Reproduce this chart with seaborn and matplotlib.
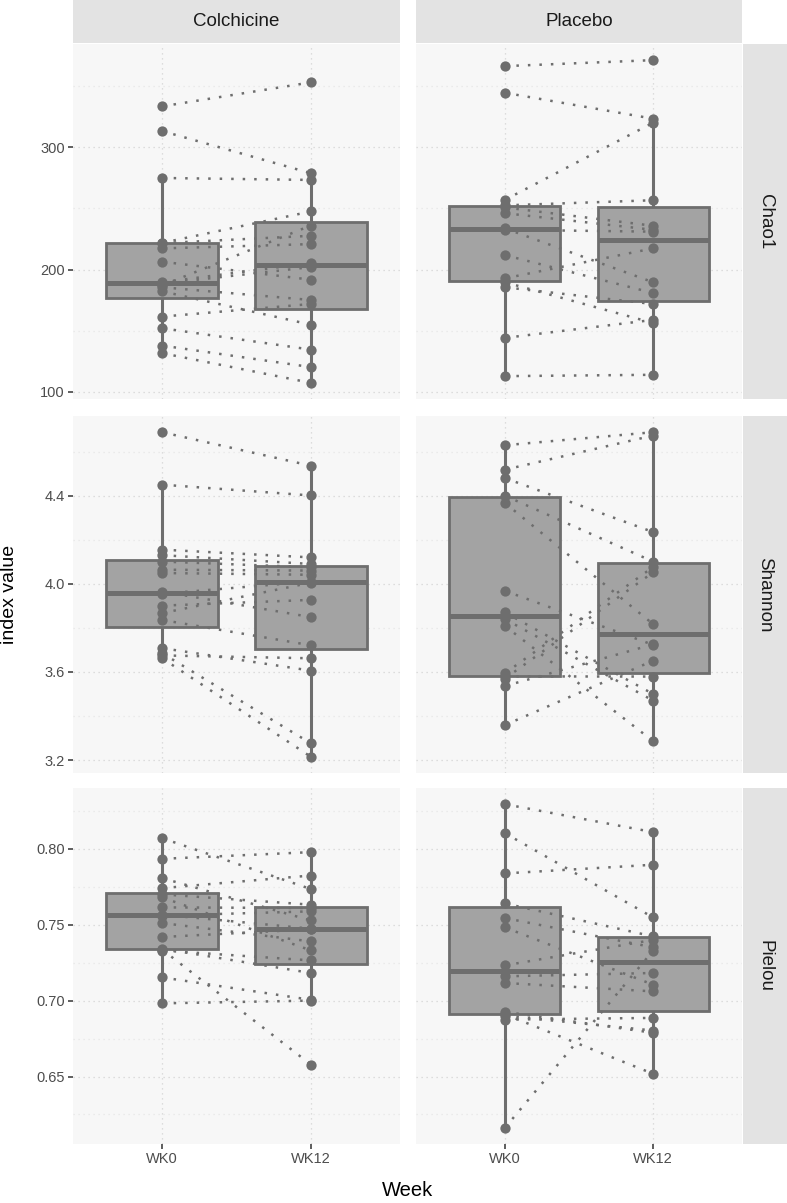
import numpy as np
import pandas as pd
import matplotlib
matplotlib.use("Agg")
import matplotlib.pyplot as plt
import seaborn as sns

# --- data (paired by subject) ---
weeks = ["WK0", "WK12"]
groups = ["Colchicine", "Placebo"]
indices = ["Chao1", "Shannon", "Pielou"]

chao1_col_wk0 = [333.5, 313.3, 274.9, 221.8, 221.6, 217.3, 206.4, 189.6,
                 188.5, 187.0, 185.5, 182.2, 161.5, 152.0, 137.8, 131.6]
chao1_col_wk12 = [353.1, 278.8, 273.3, 247.5, 227.6, 220.8, 191.7, 205.3,
                  202.0, 236.0, 175.1, 154.9, 171.8, 134.5, 120.2, 107.3]
chao1_pla_wk0 = [366.4, 344.6, 257.0, 252.5, 250.8, 246.1, 233.7,
                 232.5, 211.8, 192.8, 189.6, 185.5, 144.1, 112.8]
chao1_pla_wk12 = [371.3, 323.4, 320.1, 256.7, 235.8, 232.5, 189.6,
                  231.0, 180.8, 217.3, 156.3, 171.8, 158.8, 113.9]

shannon_col_wk0 = [4.688, 4.450, 4.155, 4.130, 4.101, 4.064, 4.049, 3.965,
                   3.955, 3.901, 3.867, 3.836, 3.708, 3.685, 3.675, 3.662]
shannon_col_wk12 = [4.536, 4.401, 4.120, 4.090, 4.075, 4.060, 4.041, 3.849,
                    4.010, 3.927, 4.005, 3.721, 3.606, 3.276, 3.662, 3.215]
shannon_pla_wk0 = [4.629, 4.518, 4.480, 4.400, 4.367, 3.968, 3.870,
                   3.840, 3.809, 3.594, 3.580, 3.570, 3.536, 3.359]
shannon_pla_wk12 = [4.688, 4.673, 4.235, 4.101, 3.817, 3.723, 3.500,
                    3.470, 3.286, 4.076, 3.579, 4.052, 3.725, 3.651]

pielou_col_wk0 = [0.8070, 0.7934, 0.7807, 0.7741, 0.7700, 0.7680, 0.7614, 0.7566,
                  0.7560, 0.7511, 0.7419, 0.7342, 0.7336, 0.7330, 0.7153, 0.6982]
pielou_col_wk12 = [0.7735, 0.7978, 0.7528, 0.7824, 0.7632, 0.7331, 0.7610, 0.7474,
                   0.7588, 0.7390, 0.7470, 0.7182, 0.6579, 0.7265, 0.7005, 0.7000]
pielou_pla_wk0 = [0.8294, 0.8103, 0.7838, 0.7640, 0.7544, 0.7482, 0.7232,
                  0.7160, 0.7116, 0.6926, 0.6910, 0.6900, 0.6875, 0.6162]
pielou_pla_wk12 = [0.8110, 0.7548, 0.7895, 0.7423, 0.7351, 0.7105, 0.7400,
                   0.7182, 0.7061, 0.6788, 0.6518, 0.6803, 0.6886, 0.7329]

series = {
    ("Chao1", "Colchicine"): (chao1_col_wk0, chao1_col_wk12),
    ("Chao1", "Placebo"): (chao1_pla_wk0, chao1_pla_wk12),
    ("Shannon", "Colchicine"): (shannon_col_wk0, shannon_col_wk12),
    ("Shannon", "Placebo"): (shannon_pla_wk0, shannon_pla_wk12),
    ("Pielou", "Colchicine"): (pielou_col_wk0, pielou_col_wk12),
    ("Pielou", "Placebo"): (pielou_pla_wk0, pielou_pla_wk12),
}

y_ticks = {
    "Chao1": ([100, 200, 300], ["100", "200", "300"], [150, 250, 350]),
    "Shannon": ([3.2, 3.6, 4.0, 4.4], ["3.2", "3.6", "4.0", "4.4"], [3.4, 3.8, 4.2, 4.6]),
    "Pielou": ([0.65, 0.70, 0.75, 0.80], ["0.65", "0.70", "0.75", "0.80"],
               [0.625, 0.675, 0.725, 0.775, 0.825]),
}

rows = []
for (idx, grp), (w0, w12) in series.items():
    for s, (a, b) in enumerate(zip(w0, w12)):
        rows.append((idx, grp, f"{grp}_{s}", "WK0", a))
        rows.append((idx, grp, f"{grp}_{s}", "WK12", b))
df = pd.DataFrame(rows, columns=["index", "group", "subject", "Week", "value"])
df["pos"] = pd.Categorical(df["Week"], categories=weeks).codes

# --- styling ---
sns.set_theme(style="white")
plt.rcParams["font.family"] = ["Liberation Sans", "DejaVu Sans"]

W, H = 787, 1203
fig = plt.figure(figsize=(W / 100, H / 100), dpi=100)

col_x = [(73, 327), (416, 326)]
row_y = [(44, 355), (416, 357), (788, 356)]
strip_top = (0, 43)
strip_right = (743, 44)

box_fill = "#A3A3A3"
dark = "#6E6E6E"
panel_bg = "#F7F7F7"
strip_bg = "#E3E3E3"


def px_axes(x, y, w, h):
    return fig.add_axes([x / W, 1 - (y + h) / H, w / W, h / H])


for r, idx in enumerate(indices):
    sub_idx = df[df["index"] == idx]
    lo, hi = sub_idx["value"].min(), sub_idx["value"].max()
    pad = (hi - lo) * 0.05
    for c, grp in enumerate(groups):
        x0, w = col_x[c]
        y0, h = row_y[r]
        ax = px_axes(x0, y0, w, h)
        sub = sub_idx[sub_idx["group"] == grp]

        sns.boxplot(data=sub, x="Week", y="value", order=weeks, color=box_fill,
                    saturation=1, linecolor=dark, linewidth=2.0, width=0.75,
                    showfliers=False, showcaps=False,
                    medianprops={"linewidth": 3.6, "color": dark},
                    whiskerprops={"linewidth": 2.2, "color": dark}, ax=ax, zorder=2)
        sns.lineplot(data=sub, x="pos", y="value", units="subject", estimator=None,
                     color=dark, linewidth=1.8, linestyle=(0, (1, 3.6)),
                     legend=False, ax=ax, zorder=3)
        sns.stripplot(data=sub, x="Week", y="value", order=weeks, jitter=False,
                      color=dark, size=7.4, linewidth=0, ax=ax, zorder=4)

        ax.set_xlim(-0.6, 1.6)
        ax.set_ylim(lo - pad, hi + pad)
        ax.set_facecolor(panel_bg)
        for sp in ax.spines.values():
            sp.set_visible(False)

        major, labels, minor = y_ticks[idx]
        ax.set_yticks(major)
        ax.set_yticks(minor, minor=True)
        ax.set_xticks([0, 1])
        ax.set_axisbelow(True)
        ax.grid(which="major", color="#D4D4D4", linestyle=(0, (1, 3)), linewidth=0.9)
        ax.grid(which="minor", axis="y", color="#E6E6E6", linestyle=(0, (1, 3)),
                linewidth=0.9)
        ax.tick_params(which="minor", length=0)
        ax.tick_params(which="major", length=3.5, width=1.1, color="#333333",
                       labelsize=10.5, labelcolor="#4D4D4D", pad=2.5)

        if c == 0:
            ax.set_yticklabels(labels)
            ax.tick_params(axis="y", left=True)
        else:
            ax.tick_params(axis="y", left=False, labelleft=False)
        if r == len(indices) - 1:
            ax.set_xticklabels(weeks)
            ax.tick_params(axis="x", bottom=True)
        else:
            ax.tick_params(axis="x", bottom=False, labelbottom=False)
        ax.set_xlabel("")
        ax.set_ylabel("")

        # top strip
        if r == 0:
            sax = px_axes(x0, strip_top[0], w, strip_top[1])
            sax.set_facecolor(strip_bg)
            sax.set_xticks([])
            sax.set_yticks([])
            for sp in sax.spines.values():
                sp.set_visible(False)
            sax.text(0.5, 0.5, grp, ha="center", va="center", fontsize=13.5,
                     color="#1A1A1A", transform=sax.transAxes)

    # right strip
    y0, h = row_y[r]
    rax = px_axes(strip_right[0], y0, strip_right[1], h)
    rax.set_facecolor(strip_bg)
    rax.set_xticks([])
    rax.set_yticks([])
    for sp in rax.spines.values():
        sp.set_visible(False)
    rax.text(0.5, 0.5, idx, ha="center", va="center", rotation=-90, fontsize=13.5,
             color="#1A1A1A", transform=rax.transAxes)

fig.text(10 / W, 1 - 594 / H, "index value", rotation=90, ha="center", va="center",
         fontsize=14, color="black")
fig.text(408 / W, 1 - 1190 / H, "Week", ha="center", va="center",
         fontsize=14.5, color="black")

fig.savefig("out.png", dpi=100, facecolor="white")
